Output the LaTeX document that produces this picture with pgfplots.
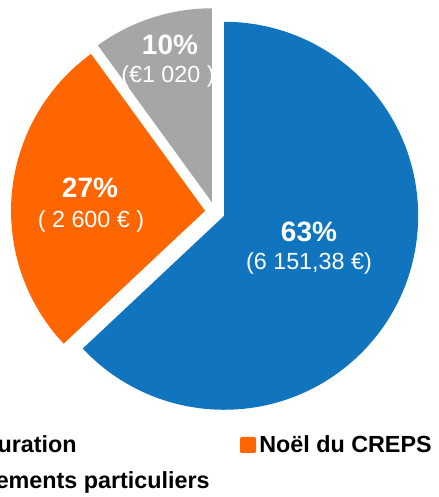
\documentclass[border=0pt]{standalone}
\usepackage{pgfplots}
\pgfplotsset{compat=1.18}
\usepackage{pgfplotstable}
\usepackage{fontspec}
\setmainfont{Liberation Sans}
\definecolor{cblue}{RGB}{16,117,190}
\definecolor{corange}{RGB}{255,102,0}
\definecolor{cgray}{RGB}{166,166,166}
\pgfplotstableread{
pct amount
63 6151.38
27 2600
10 1020
}\piedata
\begin{document}
\begin{tikzpicture}
\pgfplotstablegetelem{0}{pct}\of\piedata \let\pa\pgfplotsretval
\pgfplotstablegetelem{1}{pct}\of\piedata \let\pb\pgfplotsretval
\pgfplotstablegetelem{2}{pct}\of\piedata \let\pc\pgfplotsretval
% angles (clockwise from top)
\pgfmathsetmacro\aS{90-3.6*\pa}        % blue start
\pgfmathsetmacro\aM{90-1.8*\pa}        % blue mid
\pgfmathsetmacro\bS{90-3.6*\pa-3.6*\pb}% orange start
\pgfmathsetmacro\bE{90-3.6*\pa}
\pgfmathsetmacro\bM{90-3.6*\pa-1.8*\pb}
\pgfmathsetmacro\cS{90-360}            % gray
\pgfmathsetmacro\cE{90-3.6*\pa-3.6*\pb}
\pgfmathsetmacro\cM{90-3.6*\pa-3.6*\pb-1.8*\pc}
\pgfmathsetmacro\cx{215}
\pgfmathsetmacro\cy{285.2}
\pgfmathsetmacro\ex{10}
\pgfmathsetmacro\Ax{\cx+\ex*cos(\aM)}\pgfmathsetmacro\Ay{\cy+\ex*sin(\aM)}
\pgfmathsetmacro\Bx{\cx+\ex*cos(\bM)}\pgfmathsetmacro\By{\cy+\ex*sin(\bM)}
\pgfmathsetmacro\Cx{\cx+\ex*cos(\cM)}\pgfmathsetmacro\Cy{\cy+\ex*sin(\cM)}
\def\R{145.5pt}
\begin{scope}
\clip (0,0) rectangle (329.25pt,372.75pt);
\begin{axis}[x=0.75pt,y=0.75pt,xmin=0,xmax=439,ymin=0,ymax=497,
  hide axis,anchor=origin,at={(0,0)},clip=false,enlargelimits=false]
\fill[cblue] (axis cs:\Ax,\Ay) -- ++(\aS:\R) arc[start angle=\aS,end angle=90,radius=\R] -- cycle;
\fill[corange] (axis cs:\Bx,\By) -- ++(\bS:\R) arc[start angle=\bS,end angle=\bE,radius=\R] -- cycle;
\fill[cgray] (axis cs:\Cx,\Cy) -- ++(\cS:\R) arc[start angle=\cS,end angle=\cE,radius=\R] -- cycle;
% data labels
\node[anchor=base,inner sep=0,text=white,font=\bfseries\fontsize{21}{24}\selectfont] at (axis cs:309,255) {63\%};
\node[anchor=base,inner sep=0,text=white,font=\fontsize{17.5}{20}\selectfont] at (axis cs:309,227) {(6 151,38 €)};
\node[anchor=base,inner sep=0,text=white,font=\bfseries\fontsize{21}{24}\selectfont] at (axis cs:90,299) {27\%};
\node[anchor=base,inner sep=0,text=white,font=\fontsize{17.5}{20}\selectfont] at (axis cs:91,269) {( 2 600 € )};
\node[anchor=base,inner sep=0,text=white,font=\bfseries\fontsize{21}{24}\selectfont] at (axis cs:170,442) {10\%};
\node[anchor=base,inner sep=0,text=white,font=\fontsize{17.5}{20}\selectfont] at (axis cs:168,414) {(€1 020 )};
% legend
\fill[corange,rounded corners=1pt] (axis cs:240,44) rectangle (axis cs:256,60);
\node[anchor=base west,inner sep=0,font=\bfseries\fontsize{17.5}{20}\selectfont] at (axis cs:259,45) {Noël du CREPS};
\node[anchor=base east,inner sep=0,font=\bfseries\fontsize{17.5}{20}\selectfont] at (axis cs:77,45) {Restauration};
\node[anchor=base east,inner sep=0,font=\bfseries\fontsize{17.5}{20}\selectfont] at (axis cs:210,8) {Événements particuliers};
\end{axis}
\end{scope}
\pgfresetboundingbox
\useasboundingbox (0,0) rectangle (329.25pt,372.75pt);
\end{tikzpicture}
\end{document}
